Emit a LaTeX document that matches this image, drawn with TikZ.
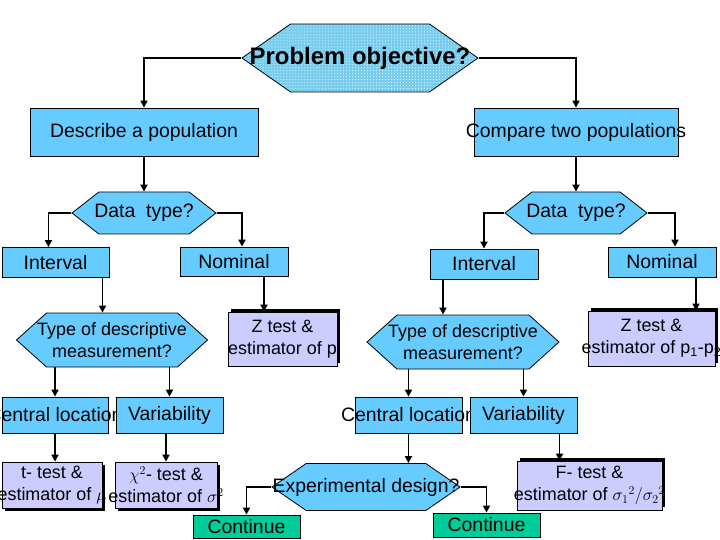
\documentclass[tikz,border=0pt]{standalone}
\usepackage{fontspec}
\setmainfont{Liberation Sans}
\usetikzlibrary{shapes.symbols, arrows.meta, shadows, patterns}
\definecolor{SkyFill}{RGB}{102,204,255}
\definecolor{DotBlue}{RGB}{120,205,238}
\definecolor{LavenderFill}{RGB}{204,204,255}
\definecolor{TealGreen}{RGB}{0,204,153}

\begin{document}
\begin{tikzpicture}[x=1bp, y=-1bp,
  box/.style={draw, fill=SkyFill, line width=0.8bp, inner sep=0pt},
  hexa/.style={box, shape=signal, signal to=east and west, signal pointer angle=#1},
  hexa/.default=80,
  testbox/.style={box, fill=LavenderFill},
  contbox/.style={box, fill=TealGreen},
  upshadow/.style={drop shadow={shadow xshift=3bp, shadow yshift=3bp, fill=black, opacity=1}},
  downshadow/.style={drop shadow={shadow xshift=3bp, shadow yshift=-3bp, fill=black, opacity=1}},
  two/.style={font=\fontsize{18}{22}\selectfont},
  every label/.style={font=\fontsize{19.5}{22}\selectfont, align=center, inner sep=0pt},
  arr/.style={-{Triangle[length=7bp, width=7bp]}, line width=1.8bp},
]
\useasboundingbox (0,0) rectangle (720,540);

\node[hexa=70, minimum width=236bp, minimum height=68bp, preaction={fill=DotBlue},
      pattern=dots, pattern color=white,
      label={[font=\bfseries\fontsize{24}{26}\selectfont]center:Problem objective?}] (obj) at (360,58) {};

\node[box, minimum width=228bp, minimum height=48bp, label={center:Describe a population}] (desc) at (144,132) {};
\node[box, minimum width=204bp, minimum height=48bp, label={center:Compare two populations}] (comp) at (576,132) {};

\node[hexa=76, minimum width=144bp, minimum height=42bp, label={center:Data\ \ type?}] (dtL) at (144,213) {};
\node[hexa=76, minimum width=142bp, minimum height=42bp, label={center:Data\ \ type?}] (dtR) at (576,213) {};

\node[box, minimum width=107bp, minimum height=30bp, label={center:Interval}] (intL) at (55.5,262.5) {};
\node[box, minimum width=108bp, minimum height=29bp, label={center:Nominal}] (nomL) at (234,261.5) {};
\node[box, minimum width=108bp, minimum height=30bp, label={center:Interval}] (intR) at (484,264) {};
\node[box, minimum width=108bp, minimum height=30bp, label={center:Nominal}] (nomR) at (662,262) {};

\node[hexa=84, minimum width=191bp, minimum height=54bp,
      label={[two]center:Type of descriptive\\measurement?}] (typL) at (112,340) {};
\node[testbox, upshadow, minimum width=109bp, minimum height=54bp,
      label={[two]center:Z test \&\\estimator of p}] (zL) at (282.5,339) {};
\node[hexa=84, minimum width=192bp, minimum height=54bp,
      label={[two]center:Type of descriptive\\measurement?}] (typR) at (463,342) {};
\node[testbox, upshadow, minimum width=127bp, minimum height=55bp,
      label={[two]center:Z test \&\\estimator of p\textsubscript{1}-p\textsubscript{2}}] (zR) at (651.5,338.5) {};

\node[box, minimum width=106bp, minimum height=36bp, label={center:Central location}] (cenL) at (55,415) {};
\node[box, minimum width=107bp, minimum height=36bp, label={center:Variability}] (varL) at (169.5,415) {};
\node[box, minimum width=107bp, minimum height=36bp, label={center:Central location}] (cenR) at (408.5,415) {};
\node[box, minimum width=107bp, minimum height=36bp, label={center:Variability}] (varR) at (523.5,415) {};

\node[testbox, downshadow, minimum width=100bp, minimum height=46bp,
      label={[two]center:t- test \&\\estimator of $\mu$}] (tL) at (52,485) {};
\node[testbox, downshadow, minimum width=102bp, minimum height=46bp,
      label={[two]center:$\chi^2$- test \&\\estimator of $\sigma^2$}] (chi) at (166,485) {};
\node[hexa=69, minimum width=188bp, minimum height=47bp, label={center:Experimental design?}] (exp) at (366,487) {};
\node[testbox, upshadow, minimum width=145bp, minimum height=49bp,
      label={[two]center:F- test \&\\estimator of $\sigma_1{}^2/\sigma_2{}^2$}] (ftest) at (589.5,485.5) {};

\node[contbox, minimum width=107bp, minimum height=23bp, label={center:Continue}] (contL) at (246.5,526.5) {};
\node[contbox, minimum width=107bp, minimum height=24bp, label={center:Continue}] (contR) at (486.5,525) {};

\draw[arr] (obj.west) -| (desc.north);
\draw[arr] (obj.east) -| (comp.north);
\draw[arr] (desc.south) -- (dtL.north);
\draw[arr] (comp.south) -- (dtR.north);
\draw[arr] (dtL.west) -| ([xshift=-7bp]intL.north);
\draw[arr] (dtL.east) -| ([xshift=8bp]nomL.north);
\draw[arr] (dtR.west) -| (intR.north);
\draw[arr] (dtR.east) -| ([xshift=13bp]nomR.north);
\draw[arr] ([xshift=47bp]intL.south) -- ([xshift=47bp]intL.south |- typL.north);
\draw[arr] ([xshift=30bp]nomL.south) -- ([xshift=30bp]nomL.south |- zL.north);
\draw[arr] ([xshift=-41bp]intR.south) -- ([xshift=-41bp]intR.south |- typR.north);
\draw[arr] ([xshift=34bp]nomR.south) -- ([xshift=34bp]nomR.south |- zR.north);
\draw[arr] (typL.south -| cenL.north) -- (cenL.north);
\draw[arr] (typL.south -| varL.north) -- (varL.north);
\draw[arr] (typR.south -| cenR.north) -- (cenR.north);
\draw[arr] (typR.south -| varR.north) -- (varR.north);
\draw[arr] (cenL.south) -- (cenL.south |- tL.north);
\draw[arr] (varL.south -| chi.north) -- (chi.north);
\draw[arr] (cenR.south) -- (cenR.south |- exp.north);
\draw[arr] ([xshift=36bp]varR.south) -- ([xshift=36bp]varR.south |- ftest.north);
\draw[arr] (exp.west) -| (contL.north);
\draw[arr] (exp.east) -| (contR.north);
\end{tikzpicture}
\end{document}
